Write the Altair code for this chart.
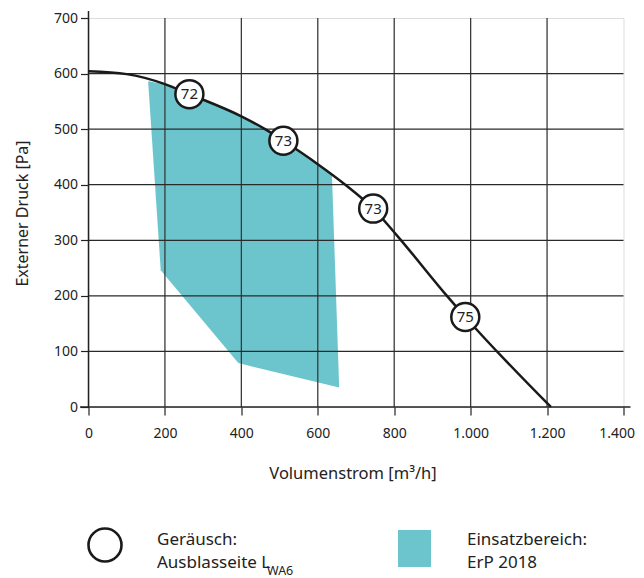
import altair as alt
import pandas as pd

# ---- data ----
curve_x = [0, 100, 200, 264, 400, 462, 510, 600, 672, 745, 808, 938, 986, 1210]
curve_y = [604, 599, 581, 563, 523, 500, 479, 437, 400, 357, 308, 200, 162, 0]

marker_x = [264, 510, 745, 986]
marker_y = [563, 479, 357, 162]
marker_label = ["72", "73", "73", "75"]

area_x = [156, 200, 264, 400, 462, 510, 600, 637, 656, 392, 189]
area_y = [586, 581, 563, 523, 500, 479, 437, 419, 35, 79, 246]

x_ticks = [0, 200, 400, 600, 800, 1000, 1200, 1400]
y_ticks = [0, 100, 200, 300, 400, 500, 600, 700]
grid_x = [200, 400, 600, 800, 1000, 1200]
grid_y = [100, 200, 300, 400, 500, 600]

FONT = "Noto Sans"
TEXT = "#222222"
TEAL = "#6cc5cd"
W, H = 535, 389

curve = pd.DataFrame({"x": curve_x, "y": curve_y})
markers = pd.DataFrame({"x": marker_x, "y": marker_y, "label": marker_label})
area = pd.DataFrame({"x": area_x, "y": area_y, "i": list(range(len(area_x)))})
gx = pd.DataFrame({"x": grid_x})
gy = pd.DataFrame({"y": grid_y})
one = pd.DataFrame({"a": [0]})

xscale = alt.Scale(domain=[0, 1400], nice=False, zero=False)
yscale = alt.Scale(domain=[0, 700], nice=False, zero=False)

xaxis = alt.Axis(
    values=x_ticks, grid=False, domain=False, tickSize=8, tickColor=TEXT, tickWidth=1.2,
    labelExpr="replace(format(datum.value, ',d'), ',', '.')", labelFlush=False,
    labelAlign={"condition": {"test": "datum.value == 1400", "value": "right"}, "value": "center"},
    labelOffset={"condition": {"test": "datum.value == 1400", "value": 11}, "value": 0},
    labelFont=FONT, labelFontSize=14, labelColor=TEXT, labelBaseline="middle", labelPadding=18,
    title="Volumenstrom [m³/h]", titleFont=FONT, titleFontSize=16.5, titleFontWeight="normal",
    titleColor=TEXT, titleX=264, titleY=66, titleAlign="center", titleBaseline="middle",
)
yaxis = alt.Axis(
    values=y_ticks, grid=False, domain=False, tickSize=8, tickColor=TEXT, tickWidth=1.2,
    labelFont=FONT, labelFontSize=14, labelColor=TEXT, labelPadding=3, labelFlush=False,
    title="Externer Druck [Pa]", titleFont=FONT, titleFontSize=16, titleFontWeight="normal",
    titleColor=TEXT, titleX=-66, titleY=195, titleAngle=270, titleAlign="center",
    titleBaseline="middle",
)


def X(f):
    return alt.X(f, type="quantitative", scale=xscale, axis=xaxis)


def Y(f):
    return alt.Y(f, type="quantitative", scale=yscale, axis=yaxis)


poly = alt.Chart(area).mark_line(fill=TEAL, stroke=None, strokeWidth=0, opacity=1).encode(
    x=X("x"), y=Y("y"), order=alt.Order("i:Q")
)

vgrid = alt.Chart(gx).mark_rule(color="#3a3a3a", strokeWidth=1.3).encode(x=X("x"))
hgrid = alt.Chart(gy).mark_rule(color="#2a2a2a", strokeWidth=1.3).encode(y=Y("y"))

xline = alt.Chart(one).mark_rule(color=TEXT, strokeWidth=1.5).encode(
    x=alt.value(-8.5), x2=alt.value(W + 7), y=alt.value(H)
)
yline = alt.Chart(one).mark_rule(color=TEXT, strokeWidth=1.5).encode(
    x=alt.value(0), y=alt.value(-7), y2=alt.value(H)
)

line = alt.Chart(curve).mark_line(color="#1a1a1a", strokeWidth=2.5, interpolate="monotone").encode(
    x=X("x"), y=Y("y")
)

circles = alt.Chart(markers).mark_point(
    shape="circle", size=784, filled=False, fill="white", fillOpacity=1, stroke="#1a1a1a",
    strokeWidth=2.5, opacity=1
).encode(x=X("x"), y=Y("y"))

labels = alt.Chart(markers).mark_text(
    font=FONT, fontSize=15, color=TEXT, align="center", baseline="middle"
).encode(x=X("x"), y=Y("y"), text="label:N")

# ---- legend (drawn manually below the plot) ----
lg_circle = alt.Chart(one).mark_point(
    shape="circle", size=1090, filled=False, stroke="#1a1a1a", strokeWidth=2.6, opacity=1
).encode(x=alt.value(16.5), y=alt.value(527))
lg_rect = alt.Chart(one).mark_rect(color=TEAL).encode(
    x=alt.value(309.5), x2=alt.value(342.5), y=alt.value(512), y2=alt.value(549)
)


def txt(s, x, y, size=17):
    return alt.Chart(one).mark_text(
        font=FONT, fontSize=size, color=TEXT, align="left", baseline="alphabetic"
    ).encode(x=alt.value(x), y=alt.value(y), text=alt.value(s))


legend = [
    lg_circle,
    lg_rect,
    txt("Geräusch:", 68.5, 527),
    txt("Ausblasseite L", 68.5, 550),
    txt("WA6", 178.5, 556.5, 12.5),
    txt("Einsatzbereich:", 378.5, 527),
    txt("ErP 2018", 378.5, 550),
]

chart = alt.layer(
    poly, vgrid, hgrid, xline, yline, line, circles, labels, *legend
).properties(
    width=W, height=H,
    autosize=alt.AutoSizeParams(type="none"),
    padding={"left": 80.5, "top": 10, "right": 12, "bottom": 172},
).configure_view(stroke=None).configure(font=FONT)

chart.save("out.html", embed_options={"renderer": "svg", "actions": False})
